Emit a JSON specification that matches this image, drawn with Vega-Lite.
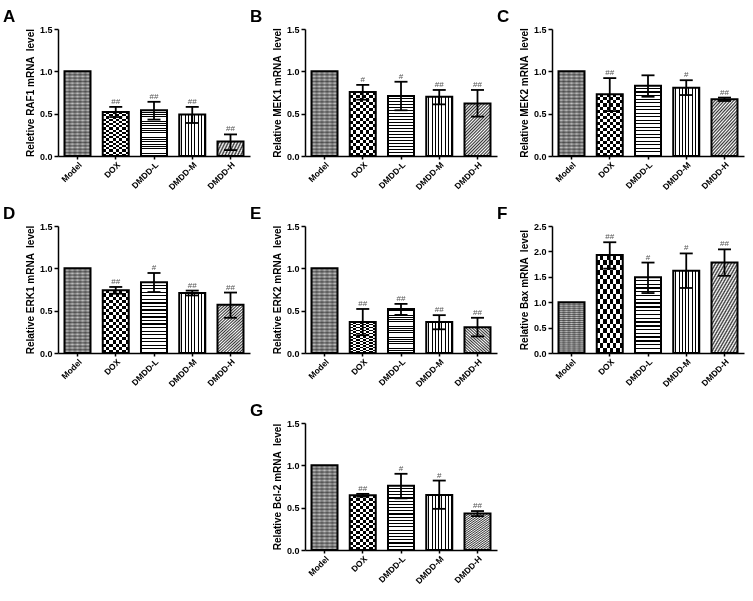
{
"$schema":"https://vega.github.io/schema/vega-lite/v6.json",
"padding":{"left":3,"top":8,"right":5,"bottom":5},
"background":"white",
"params":[
{"name":"gModel","value":{"gradient":"linear","x1":0,"y1":0,"x2":0,"y2":1,"stops":[{"offset":0,"color":"#666666"},{"offset":0.02,"color":"#c4c4c4"},{"offset":0.04,"color":"#666666"},{"offset":0.06,"color":"#c4c4c4"},{"offset":0.08,"color":"#666666"},{"offset":0.1,"color":"#c4c4c4"},{"offset":0.12,"color":"#666666"},{"offset":0.14,"color":"#c4c4c4"},{"offset":0.16,"color":"#666666"},{"offset":0.18,"color":"#c4c4c4"},{"offset":0.2,"color":"#666666"},{"offset":0.22,"color":"#c4c4c4"},{"offset":0.24,"color":"#666666"},{"offset":0.26,"color":"#c4c4c4"},{"offset":0.28,"color":"#666666"},{"offset":0.3,"color":"#c4c4c4"},{"offset":0.32,"color":"#666666"},{"offset":0.34,"color":"#c4c4c4"},{"offset":0.36,"color":"#666666"},{"offset":0.38,"color":"#c4c4c4"},{"offset":0.4,"color":"#666666"},{"offset":0.42,"color":"#c4c4c4"},{"offset":0.44,"color":"#666666"},{"offset":0.46,"color":"#c4c4c4"},{"offset":0.48,"color":"#666666"},{"offset":0.5,"color":"#c4c4c4"},{"offset":0.52,"color":"#666666"},{"offset":0.54,"color":"#c4c4c4"},{"offset":0.56,"color":"#666666"},{"offset":0.58,"color":"#c4c4c4"},{"offset":0.6,"color":"#666666"},{"offset":0.62,"color":"#c4c4c4"},{"offset":0.64,"color":"#666666"},{"offset":0.66,"color":"#c4c4c4"},{"offset":0.68,"color":"#666666"},{"offset":0.7,"color":"#c4c4c4"},{"offset":0.72,"color":"#666666"},{"offset":0.74,"color":"#c4c4c4"},{"offset":0.76,"color":"#666666"},{"offset":0.78,"color":"#c4c4c4"},{"offset":0.8,"color":"#666666"},{"offset":0.82,"color":"#c4c4c4"},{"offset":0.84,"color":"#666666"},{"offset":0.86,"color":"#c4c4c4"},{"offset":0.88,"color":"#666666"},{"offset":0.9,"color":"#c4c4c4"},{"offset":0.92,"color":"#666666"},{"offset":0.94,"color":"#c4c4c4"},{"offset":0.96,"color":"#666666"},{"offset":0.98,"color":"#c4c4c4"},{"offset":1,"color":"#666666"}]}},
{"name":"gModelV","value":{"gradient":"linear","x1":0,"y1":0,"x2":1,"y2":0,"stops":[{"offset":0,"color":"rgba(0,0,0,0.3)"},{"offset":0.1,"color":"rgba(0,0,0,0)"},{"offset":0.2,"color":"rgba(0,0,0,0.3)"},{"offset":0.3,"color":"rgba(0,0,0,0)"},{"offset":0.4,"color":"rgba(0,0,0,0.3)"},{"offset":0.5,"color":"rgba(0,0,0,0)"},{"offset":0.6,"color":"rgba(0,0,0,0.3)"},{"offset":0.7,"color":"rgba(0,0,0,0)"},{"offset":0.8,"color":"rgba(0,0,0,0.3)"},{"offset":0.9,"color":"rgba(0,0,0,0)"},{"offset":1,"color":"rgba(0,0,0,0.3)"}]}},
{"name":"gDox","value":{"gradient":"linear","x1":0,"y1":0,"x2":0,"y2":1,"stops":[{"offset":0,"color":"#ffffff"},{"offset":0.05,"color":"#ffffff"},{"offset":0.05,"color":"#000000"},{"offset":0.1,"color":"#000000"},{"offset":0.1,"color":"#ffffff"},{"offset":0.15,"color":"#ffffff"},{"offset":0.15,"color":"#000000"},{"offset":0.2,"color":"#000000"},{"offset":0.2,"color":"#ffffff"},{"offset":0.25,"color":"#ffffff"},{"offset":0.25,"color":"#000000"},{"offset":0.3,"color":"#000000"},{"offset":0.3,"color":"#ffffff"},{"offset":0.35,"color":"#ffffff"},{"offset":0.35,"color":"#000000"},{"offset":0.4,"color":"#000000"},{"offset":0.4,"color":"#ffffff"},{"offset":0.45,"color":"#ffffff"},{"offset":0.45,"color":"#000000"},{"offset":0.5,"color":"#000000"},{"offset":0.5,"color":"#ffffff"},{"offset":0.55,"color":"#ffffff"},{"offset":0.55,"color":"#000000"},{"offset":0.6,"color":"#000000"},{"offset":0.6,"color":"#ffffff"},{"offset":0.65,"color":"#ffffff"},{"offset":0.65,"color":"#000000"},{"offset":0.7,"color":"#000000"},{"offset":0.7,"color":"#ffffff"},{"offset":0.75,"color":"#ffffff"},{"offset":0.75,"color":"#000000"},{"offset":0.8,"color":"#000000"},{"offset":0.8,"color":"#ffffff"},{"offset":0.85,"color":"#ffffff"},{"offset":0.85,"color":"#000000"},{"offset":0.9,"color":"#000000"},{"offset":0.9,"color":"#ffffff"},{"offset":0.95,"color":"#ffffff"},{"offset":0.95,"color":"#000000"},{"offset":1,"color":"#000000"}]}},
{"name":"gDoxV","value":{"gradient":"linear","x1":0,"y1":0,"x2":1,"y2":0,"stops":[{"offset":0,"color":"#000000"},{"offset":0.125,"color":"#000000"},{"offset":0.125,"color":"#ffffff"},{"offset":0.25,"color":"#ffffff"},{"offset":0.25,"color":"#000000"},{"offset":0.375,"color":"#000000"},{"offset":0.375,"color":"#ffffff"},{"offset":0.5,"color":"#ffffff"},{"offset":0.5,"color":"#000000"},{"offset":0.625,"color":"#000000"},{"offset":0.625,"color":"#ffffff"},{"offset":0.75,"color":"#ffffff"},{"offset":0.75,"color":"#000000"},{"offset":0.875,"color":"#000000"},{"offset":0.875,"color":"#ffffff"},{"offset":1,"color":"#ffffff"}]}},
{"name":"gL","value":{"gradient":"linear","x1":0,"y1":0,"x2":0,"y2":1,"stops":[{"offset":0,"color":"#ffffff"},{"offset":0.032,"color":"#ffffff"},{"offset":0.032,"color":"#000000"},{"offset":0.05,"color":"#000000"},{"offset":0.05,"color":"#ffffff"},{"offset":0.082,"color":"#ffffff"},{"offset":0.082,"color":"#000000"},{"offset":0.1,"color":"#000000"},{"offset":0.1,"color":"#ffffff"},{"offset":0.132,"color":"#ffffff"},{"offset":0.132,"color":"#000000"},{"offset":0.15,"color":"#000000"},{"offset":0.15,"color":"#ffffff"},{"offset":0.182,"color":"#ffffff"},{"offset":0.182,"color":"#000000"},{"offset":0.2,"color":"#000000"},{"offset":0.2,"color":"#ffffff"},{"offset":0.232,"color":"#ffffff"},{"offset":0.232,"color":"#000000"},{"offset":0.25,"color":"#000000"},{"offset":0.25,"color":"#ffffff"},{"offset":0.282,"color":"#ffffff"},{"offset":0.282,"color":"#000000"},{"offset":0.3,"color":"#000000"},{"offset":0.3,"color":"#ffffff"},{"offset":0.332,"color":"#ffffff"},{"offset":0.332,"color":"#000000"},{"offset":0.35,"color":"#000000"},{"offset":0.35,"color":"#ffffff"},{"offset":0.382,"color":"#ffffff"},{"offset":0.382,"color":"#000000"},{"offset":0.4,"color":"#000000"},{"offset":0.4,"color":"#ffffff"},{"offset":0.432,"color":"#ffffff"},{"offset":0.432,"color":"#000000"},{"offset":0.45,"color":"#000000"},{"offset":0.45,"color":"#ffffff"},{"offset":0.482,"color":"#ffffff"},{"offset":0.482,"color":"#000000"},{"offset":0.5,"color":"#000000"},{"offset":0.5,"color":"#ffffff"},{"offset":0.532,"color":"#ffffff"},{"offset":0.532,"color":"#000000"},{"offset":0.55,"color":"#000000"},{"offset":0.55,"color":"#ffffff"},{"offset":0.582,"color":"#ffffff"},{"offset":0.582,"color":"#000000"},{"offset":0.6,"color":"#000000"},{"offset":0.6,"color":"#ffffff"},{"offset":0.632,"color":"#ffffff"},{"offset":0.632,"color":"#000000"},{"offset":0.65,"color":"#000000"},{"offset":0.65,"color":"#ffffff"},{"offset":0.682,"color":"#ffffff"},{"offset":0.682,"color":"#000000"},{"offset":0.7,"color":"#000000"},{"offset":0.7,"color":"#ffffff"},{"offset":0.732,"color":"#ffffff"},{"offset":0.732,"color":"#000000"},{"offset":0.75,"color":"#000000"},{"offset":0.75,"color":"#ffffff"},{"offset":0.782,"color":"#ffffff"},{"offset":0.782,"color":"#000000"},{"offset":0.8,"color":"#000000"},{"offset":0.8,"color":"#ffffff"},{"offset":0.832,"color":"#ffffff"},{"offset":0.832,"color":"#000000"},{"offset":0.85,"color":"#000000"},{"offset":0.85,"color":"#ffffff"},{"offset":0.882,"color":"#ffffff"},{"offset":0.882,"color":"#000000"},{"offset":0.9,"color":"#000000"},{"offset":0.9,"color":"#ffffff"},{"offset":0.932,"color":"#ffffff"},{"offset":0.932,"color":"#000000"},{"offset":0.95,"color":"#000000"},{"offset":0.95,"color":"#ffffff"},{"offset":0.982,"color":"#ffffff"},{"offset":0.982,"color":"#000000"},{"offset":1,"color":"#000000"}]}},
{"name":"gM","value":{"gradient":"linear","x1":0,"y1":0,"x2":1,"y2":0,"stops":[{"offset":0,"color":"#ffffff"},{"offset":0.08,"color":"#ffffff"},{"offset":0.08,"color":"#000000"},{"offset":0.125,"color":"#000000"},{"offset":0.125,"color":"#ffffff"},{"offset":0.205,"color":"#ffffff"},{"offset":0.205,"color":"#000000"},{"offset":0.25,"color":"#000000"},{"offset":0.25,"color":"#ffffff"},{"offset":0.33,"color":"#ffffff"},{"offset":0.33,"color":"#000000"},{"offset":0.375,"color":"#000000"},{"offset":0.375,"color":"#ffffff"},{"offset":0.455,"color":"#ffffff"},{"offset":0.455,"color":"#000000"},{"offset":0.5,"color":"#000000"},{"offset":0.5,"color":"#ffffff"},{"offset":0.58,"color":"#ffffff"},{"offset":0.58,"color":"#000000"},{"offset":0.625,"color":"#000000"},{"offset":0.625,"color":"#ffffff"},{"offset":0.705,"color":"#ffffff"},{"offset":0.705,"color":"#000000"},{"offset":0.75,"color":"#000000"},{"offset":0.75,"color":"#ffffff"},{"offset":0.83,"color":"#ffffff"},{"offset":0.83,"color":"#000000"},{"offset":0.875,"color":"#000000"},{"offset":0.875,"color":"#ffffff"},{"offset":0.955,"color":"#ffffff"},{"offset":0.955,"color":"#000000"},{"offset":1,"color":"#000000"}]}},
{"name":"gH","value":{"gradient":"linear","x1":0,"y1":0,"x2":0.6,"y2":1.2,"stops":[{"offset":0,"color":"#ffffff"},{"offset":0.02,"color":"#333333"},{"offset":0.04,"color":"#ffffff"},{"offset":0.06,"color":"#333333"},{"offset":0.08,"color":"#ffffff"},{"offset":0.1,"color":"#333333"},{"offset":0.12,"color":"#ffffff"},{"offset":0.14,"color":"#333333"},{"offset":0.16,"color":"#ffffff"},{"offset":0.18,"color":"#333333"},{"offset":0.2,"color":"#ffffff"},{"offset":0.22,"color":"#333333"},{"offset":0.24,"color":"#ffffff"},{"offset":0.26,"color":"#333333"},{"offset":0.28,"color":"#ffffff"},{"offset":0.3,"color":"#333333"},{"offset":0.32,"color":"#ffffff"},{"offset":0.34,"color":"#333333"},{"offset":0.36,"color":"#ffffff"},{"offset":0.38,"color":"#333333"},{"offset":0.4,"color":"#ffffff"},{"offset":0.42,"color":"#333333"},{"offset":0.44,"color":"#ffffff"},{"offset":0.46,"color":"#333333"},{"offset":0.48,"color":"#ffffff"},{"offset":0.5,"color":"#333333"},{"offset":0.52,"color":"#ffffff"},{"offset":0.54,"color":"#333333"},{"offset":0.56,"color":"#ffffff"},{"offset":0.58,"color":"#333333"},{"offset":0.6,"color":"#ffffff"},{"offset":0.62,"color":"#333333"},{"offset":0.64,"color":"#ffffff"},{"offset":0.66,"color":"#333333"},{"offset":0.68,"color":"#ffffff"},{"offset":0.7,"color":"#333333"},{"offset":0.72,"color":"#ffffff"},{"offset":0.74,"color":"#333333"},{"offset":0.76,"color":"#ffffff"},{"offset":0.78,"color":"#333333"},{"offset":0.8,"color":"#ffffff"},{"offset":0.82,"color":"#333333"},{"offset":0.84,"color":"#ffffff"},{"offset":0.86,"color":"#333333"},{"offset":0.88,"color":"#ffffff"},{"offset":0.9,"color":"#333333"},{"offset":0.92,"color":"#ffffff"},{"offset":0.94,"color":"#333333"},{"offset":0.96,"color":"#ffffff"},{"offset":0.98,"color":"#333333"},{"offset":1,"color":"#ffffff"}]}}
],
"datasets":{"d":[
{"p":"A","g":"Model","m":1,"lo":null,"hi":null,"s":""},
{"p":"A","g":"DOX","m":0.52,"lo":0.46,"hi":0.58,"s":"##"},
{"p":"A","g":"DMDD-L","m":0.54,"lo":0.43,"hi":0.64,"s":"##"},
{"p":"A","g":"DMDD-M","m":0.49,"lo":0.39,"hi":0.58,"s":"##"},
{"p":"A","g":"DMDD-H","m":0.17,"lo":0.07,"hi":0.255,"s":"##"},
{"p":"B","g":"Model","m":1,"lo":null,"hi":null,"s":""},
{"p":"B","g":"DOX","m":0.755,"lo":0.665,"hi":0.84,"s":"#"},
{"p":"B","g":"DMDD-L","m":0.71,"lo":0.54,"hi":0.877,"s":"#"},
{"p":"B","g":"DMDD-M","m":0.7,"lo":0.61,"hi":0.78,"s":"##"},
{"p":"B","g":"DMDD-H","m":0.62,"lo":0.465,"hi":0.78,"s":"##"},
{"p":"C","g":"Model","m":1,"lo":null,"hi":null,"s":""},
{"p":"C","g":"DOX","m":0.73,"lo":0.53,"hi":0.92,"s":"##"},
{"p":"C","g":"DMDD-L","m":0.83,"lo":0.7,"hi":0.953,"s":""},
{"p":"C","g":"DMDD-M","m":0.805,"lo":0.72,"hi":0.895,"s":"#"},
{"p":"C","g":"DMDD-H","m":0.67,"lo":0.65,"hi":0.69,"s":"##"},
{"p":"D","g":"Model","m":1,"lo":null,"hi":null,"s":""},
{"p":"D","g":"DOX","m":0.74,"lo":0.7,"hi":0.78,"s":"##"},
{"p":"D","g":"DMDD-L","m":0.835,"lo":0.72,"hi":0.945,"s":"#"},
{"p":"D","g":"DMDD-M","m":0.71,"lo":0.68,"hi":0.737,"s":"##"},
{"p":"D","g":"DMDD-H","m":0.57,"lo":0.416,"hi":0.714,"s":"##"},
{"p":"E","g":"Model","m":1,"lo":null,"hi":null,"s":""},
{"p":"E","g":"DOX","m":0.365,"lo":0.21,"hi":0.52,"s":"##"},
{"p":"E","g":"DMDD-L","m":0.52,"lo":0.45,"hi":0.58,"s":"##"},
{"p":"E","g":"DMDD-M","m":0.365,"lo":0.28,"hi":0.447,"s":"##"},
{"p":"E","g":"DMDD-H","m":0.305,"lo":0.196,"hi":0.416,"s":"##"},
{"p":"F","g":"Model","m":1,"lo":null,"hi":null,"s":""},
{"p":"F","g":"DOX","m":1.93,"lo":1.66,"hi":2.18,"s":"##"},
{"p":"F","g":"DMDD-L","m":1.49,"lo":1.18,"hi":1.78,"s":"#"},
{"p":"F","g":"DMDD-M","m":1.62,"lo":1.28,"hi":1.96,"s":"#"},
{"p":"F","g":"DMDD-H","m":1.78,"lo":1.52,"hi":2.04,"s":"##"},
{"p":"G","g":"Model","m":1,"lo":null,"hi":null,"s":""},
{"p":"G","g":"DOX","m":0.647,"lo":0.63,"hi":0.663,"s":"##"},
{"p":"G","g":"DMDD-L","m":0.76,"lo":0.61,"hi":0.9,"s":"#"},
{"p":"G","g":"DMDD-M","m":0.65,"lo":0.486,"hi":0.82,"s":"#"},
{"p":"G","g":"DMDD-H","m":0.43,"lo":0.4,"hi":0.46,"s":"##"}
]},
"columns":3,
"bounds":"flush",
"spacing":{"row":70,"column":55},
"concat":[
{"width":192,"height":127,"title":{"text":"A"},"data":{"name":"d"},"transform":[{"filter":"datum.p==='A'"}],
"encoding":{"x":{"field":"g","type":"nominal","scale":{"domain":["Model","DOX","DMDD-L","DMDD-M","DMDD-H"],"paddingInner":0.32,"paddingOuter":0.17},"axis":{"title":null}},
"y":{"field":"m","type":"quantitative","scale":{"domain":[0,1.5]},"axis":{"title":"Reletive RAF1 mRNA \u00a0level","values":[0,0.5,1,1.5],"format":".1f"}}},
"layer":[
{"transform":[{"filter":"datum.g==='Model'"}],"mark":{"type":"bar","fill":{"expr":"gModel"}}},
{"transform":[{"filter":"datum.g==='Model'"}],"mark":{"type":"bar","fill":{"expr":"gModelV"}}},
{"transform":[{"filter":"datum.g==='DOX'"}],"mark":{"type":"bar","fill":{"expr":"gDox"}}},
{"transform":[{"filter":"datum.g==='DOX'"}],"mark":{"type":"bar","fill":{"expr":"gDoxV"},"blend":"difference"}},
{"transform":[{"filter":"datum.g==='DMDD-L'"}],"mark":{"type":"bar","fill":{"expr":"gL"}}},
{"transform":[{"filter":"datum.g==='DMDD-M'"}],"mark":{"type":"bar","fill":{"expr":"gM"}}},
{"transform":[{"filter":"datum.g==='DMDD-H'"}],"mark":{"type":"bar","fill":{"expr":"gH"}}},
{"mark":{"type":"bar","fillOpacity":0,"stroke":"black","strokeWidth":2}},
{"transform":[{"filter":"datum.lo!=null"}],"mark":{"type":"rule","strokeWidth":1.8,"color":"black"},"encoding":{"y":{"field":"lo","type":"quantitative"},"y2":{"field":"hi"}}},
{"transform":[{"filter":"datum.lo!=null"}],"mark":{"type":"tick","size":13,"thickness":1.8,"color":"black","opacity":1},"encoding":{"y":{"field":"hi","type":"quantitative"}}},
{"transform":[{"filter":"datum.lo!=null"}],"mark":{"type":"tick","size":13,"thickness":1.8,"color":"black","opacity":1},"encoding":{"y":{"field":"lo","type":"quantitative"}}},
{"transform":[{"filter":"datum.s!=''"}],"mark":{"type":"text","baseline":"bottom","dy":-1,"fontSize":8,"color":"#555555"},"encoding":{"y":{"field":"hi","type":"quantitative"},"text":{"field":"s"}}}
]},
{"width":192,"height":127,"title":{"text":"B"},"data":{"name":"d"},"transform":[{"filter":"datum.p==='B'"}],
"encoding":{"x":{"field":"g","type":"nominal","scale":{"domain":["Model","DOX","DMDD-L","DMDD-M","DMDD-H"],"paddingInner":0.32,"paddingOuter":0.17},"axis":{"title":null}},
"y":{"field":"m","type":"quantitative","scale":{"domain":[0,1.5]},"axis":{"title":"Relative MEK1 mRNA \u00a0level","values":[0,0.5,1,1.5],"format":".1f"}}},
"layer":[
{"transform":[{"filter":"datum.g==='Model'"}],"mark":{"type":"bar","fill":{"expr":"gModel"}}},
{"transform":[{"filter":"datum.g==='Model'"}],"mark":{"type":"bar","fill":{"expr":"gModelV"}}},
{"transform":[{"filter":"datum.g==='DOX'"}],"mark":{"type":"bar","fill":{"expr":"gDox"}}},
{"transform":[{"filter":"datum.g==='DOX'"}],"mark":{"type":"bar","fill":{"expr":"gDoxV"},"blend":"difference"}},
{"transform":[{"filter":"datum.g==='DMDD-L'"}],"mark":{"type":"bar","fill":{"expr":"gL"}}},
{"transform":[{"filter":"datum.g==='DMDD-M'"}],"mark":{"type":"bar","fill":{"expr":"gM"}}},
{"transform":[{"filter":"datum.g==='DMDD-H'"}],"mark":{"type":"bar","fill":{"expr":"gH"}}},
{"mark":{"type":"bar","fillOpacity":0,"stroke":"black","strokeWidth":2}},
{"transform":[{"filter":"datum.lo!=null"}],"mark":{"type":"rule","strokeWidth":1.8,"color":"black"},"encoding":{"y":{"field":"lo","type":"quantitative"},"y2":{"field":"hi"}}},
{"transform":[{"filter":"datum.lo!=null"}],"mark":{"type":"tick","size":13,"thickness":1.8,"color":"black","opacity":1},"encoding":{"y":{"field":"hi","type":"quantitative"}}},
{"transform":[{"filter":"datum.lo!=null"}],"mark":{"type":"tick","size":13,"thickness":1.8,"color":"black","opacity":1},"encoding":{"y":{"field":"lo","type":"quantitative"}}},
{"transform":[{"filter":"datum.s!=''"}],"mark":{"type":"text","baseline":"bottom","dy":-1,"fontSize":8,"color":"#555555"},"encoding":{"y":{"field":"hi","type":"quantitative"},"text":{"field":"s"}}}
]},
{"width":192,"height":127,"title":{"text":"C"},"data":{"name":"d"},"transform":[{"filter":"datum.p==='C'"}],
"encoding":{"x":{"field":"g","type":"nominal","scale":{"domain":["Model","DOX","DMDD-L","DMDD-M","DMDD-H"],"paddingInner":0.32,"paddingOuter":0.17},"axis":{"title":null}},
"y":{"field":"m","type":"quantitative","scale":{"domain":[0,1.5]},"axis":{"title":"Relative MEK2 mRNA \u00a0level","values":[0,0.5,1,1.5],"format":".1f"}}},
"layer":[
{"transform":[{"filter":"datum.g==='Model'"}],"mark":{"type":"bar","fill":{"expr":"gModel"}}},
{"transform":[{"filter":"datum.g==='Model'"}],"mark":{"type":"bar","fill":{"expr":"gModelV"}}},
{"transform":[{"filter":"datum.g==='DOX'"}],"mark":{"type":"bar","fill":{"expr":"gDox"}}},
{"transform":[{"filter":"datum.g==='DOX'"}],"mark":{"type":"bar","fill":{"expr":"gDoxV"},"blend":"difference"}},
{"transform":[{"filter":"datum.g==='DMDD-L'"}],"mark":{"type":"bar","fill":{"expr":"gL"}}},
{"transform":[{"filter":"datum.g==='DMDD-M'"}],"mark":{"type":"bar","fill":{"expr":"gM"}}},
{"transform":[{"filter":"datum.g==='DMDD-H'"}],"mark":{"type":"bar","fill":{"expr":"gH"}}},
{"mark":{"type":"bar","fillOpacity":0,"stroke":"black","strokeWidth":2}},
{"transform":[{"filter":"datum.lo!=null"}],"mark":{"type":"rule","strokeWidth":1.8,"color":"black"},"encoding":{"y":{"field":"lo","type":"quantitative"},"y2":{"field":"hi"}}},
{"transform":[{"filter":"datum.lo!=null"}],"mark":{"type":"tick","size":13,"thickness":1.8,"color":"black","opacity":1},"encoding":{"y":{"field":"hi","type":"quantitative"}}},
{"transform":[{"filter":"datum.lo!=null"}],"mark":{"type":"tick","size":13,"thickness":1.8,"color":"black","opacity":1},"encoding":{"y":{"field":"lo","type":"quantitative"}}},
{"transform":[{"filter":"datum.s!=''"}],"mark":{"type":"text","baseline":"bottom","dy":-1,"fontSize":8,"color":"#555555"},"encoding":{"y":{"field":"hi","type":"quantitative"},"text":{"field":"s"}}}
]},
{"width":192,"height":127,"title":{"text":"D"},"data":{"name":"d"},"transform":[{"filter":"datum.p==='D'"}],
"encoding":{"x":{"field":"g","type":"nominal","scale":{"domain":["Model","DOX","DMDD-L","DMDD-M","DMDD-H"],"paddingInner":0.32,"paddingOuter":0.17},"axis":{"title":null}},
"y":{"field":"m","type":"quantitative","scale":{"domain":[0,1.5]},"axis":{"title":"Relative ERK1 mRNA \u00a0level","values":[0,0.5,1,1.5],"format":".1f"}}},
"layer":[
{"transform":[{"filter":"datum.g==='Model'"}],"mark":{"type":"bar","fill":{"expr":"gModel"}}},
{"transform":[{"filter":"datum.g==='Model'"}],"mark":{"type":"bar","fill":{"expr":"gModelV"}}},
{"transform":[{"filter":"datum.g==='DOX'"}],"mark":{"type":"bar","fill":{"expr":"gDox"}}},
{"transform":[{"filter":"datum.g==='DOX'"}],"mark":{"type":"bar","fill":{"expr":"gDoxV"},"blend":"difference"}},
{"transform":[{"filter":"datum.g==='DMDD-L'"}],"mark":{"type":"bar","fill":{"expr":"gL"}}},
{"transform":[{"filter":"datum.g==='DMDD-M'"}],"mark":{"type":"bar","fill":{"expr":"gM"}}},
{"transform":[{"filter":"datum.g==='DMDD-H'"}],"mark":{"type":"bar","fill":{"expr":"gH"}}},
{"mark":{"type":"bar","fillOpacity":0,"stroke":"black","strokeWidth":2}},
{"transform":[{"filter":"datum.lo!=null"}],"mark":{"type":"rule","strokeWidth":1.8,"color":"black"},"encoding":{"y":{"field":"lo","type":"quantitative"},"y2":{"field":"hi"}}},
{"transform":[{"filter":"datum.lo!=null"}],"mark":{"type":"tick","size":13,"thickness":1.8,"color":"black","opacity":1},"encoding":{"y":{"field":"hi","type":"quantitative"}}},
{"transform":[{"filter":"datum.lo!=null"}],"mark":{"type":"tick","size":13,"thickness":1.8,"color":"black","opacity":1},"encoding":{"y":{"field":"lo","type":"quantitative"}}},
{"transform":[{"filter":"datum.s!=''"}],"mark":{"type":"text","baseline":"bottom","dy":-1,"fontSize":8,"color":"#555555"},"encoding":{"y":{"field":"hi","type":"quantitative"},"text":{"field":"s"}}}
]},
{"width":192,"height":127,"title":{"text":"E"},"data":{"name":"d"},"transform":[{"filter":"datum.p==='E'"}],
"encoding":{"x":{"field":"g","type":"nominal","scale":{"domain":["Model","DOX","DMDD-L","DMDD-M","DMDD-H"],"paddingInner":0.32,"paddingOuter":0.17},"axis":{"title":null}},
"y":{"field":"m","type":"quantitative","scale":{"domain":[0,1.5]},"axis":{"title":"Relative ERK2 mRNA \u00a0level","values":[0,0.5,1,1.5],"format":".1f"}}},
"layer":[
{"transform":[{"filter":"datum.g==='Model'"}],"mark":{"type":"bar","fill":{"expr":"gModel"}}},
{"transform":[{"filter":"datum.g==='Model'"}],"mark":{"type":"bar","fill":{"expr":"gModelV"}}},
{"transform":[{"filter":"datum.g==='DOX'"}],"mark":{"type":"bar","fill":{"expr":"gDox"}}},
{"transform":[{"filter":"datum.g==='DOX'"}],"mark":{"type":"bar","fill":{"expr":"gDoxV"},"blend":"difference"}},
{"transform":[{"filter":"datum.g==='DMDD-L'"}],"mark":{"type":"bar","fill":{"expr":"gL"}}},
{"transform":[{"filter":"datum.g==='DMDD-M'"}],"mark":{"type":"bar","fill":{"expr":"gM"}}},
{"transform":[{"filter":"datum.g==='DMDD-H'"}],"mark":{"type":"bar","fill":{"expr":"gH"}}},
{"mark":{"type":"bar","fillOpacity":0,"stroke":"black","strokeWidth":2}},
{"transform":[{"filter":"datum.lo!=null"}],"mark":{"type":"rule","strokeWidth":1.8,"color":"black"},"encoding":{"y":{"field":"lo","type":"quantitative"},"y2":{"field":"hi"}}},
{"transform":[{"filter":"datum.lo!=null"}],"mark":{"type":"tick","size":13,"thickness":1.8,"color":"black","opacity":1},"encoding":{"y":{"field":"hi","type":"quantitative"}}},
{"transform":[{"filter":"datum.lo!=null"}],"mark":{"type":"tick","size":13,"thickness":1.8,"color":"black","opacity":1},"encoding":{"y":{"field":"lo","type":"quantitative"}}},
{"transform":[{"filter":"datum.s!=''"}],"mark":{"type":"text","baseline":"bottom","dy":-1,"fontSize":8,"color":"#555555"},"encoding":{"y":{"field":"hi","type":"quantitative"},"text":{"field":"s"}}}
]},
{"width":192,"height":127,"title":{"text":"F"},"data":{"name":"d"},"transform":[{"filter":"datum.p==='F'"}],
"encoding":{"x":{"field":"g","type":"nominal","scale":{"domain":["Model","DOX","DMDD-L","DMDD-M","DMDD-H"],"paddingInner":0.32,"paddingOuter":0.17},"axis":{"title":null}},
"y":{"field":"m","type":"quantitative","scale":{"domain":[0,2.5]},"axis":{"title":"Relative Bax mRNA \u00a0level","values":[0,0.5,1,1.5,2,2.5],"format":".1f"}}},
"layer":[
{"transform":[{"filter":"datum.g==='Model'"}],"mark":{"type":"bar","fill":{"expr":"gModel"}}},
{"transform":[{"filter":"datum.g==='Model'"}],"mark":{"type":"bar","fill":{"expr":"gModelV"}}},
{"transform":[{"filter":"datum.g==='DOX'"}],"mark":{"type":"bar","fill":{"expr":"gDox"}}},
{"transform":[{"filter":"datum.g==='DOX'"}],"mark":{"type":"bar","fill":{"expr":"gDoxV"},"blend":"difference"}},
{"transform":[{"filter":"datum.g==='DMDD-L'"}],"mark":{"type":"bar","fill":{"expr":"gL"}}},
{"transform":[{"filter":"datum.g==='DMDD-M'"}],"mark":{"type":"bar","fill":{"expr":"gM"}}},
{"transform":[{"filter":"datum.g==='DMDD-H'"}],"mark":{"type":"bar","fill":{"expr":"gH"}}},
{"mark":{"type":"bar","fillOpacity":0,"stroke":"black","strokeWidth":2}},
{"transform":[{"filter":"datum.lo!=null"}],"mark":{"type":"rule","strokeWidth":1.8,"color":"black"},"encoding":{"y":{"field":"lo","type":"quantitative"},"y2":{"field":"hi"}}},
{"transform":[{"filter":"datum.lo!=null"}],"mark":{"type":"tick","size":13,"thickness":1.8,"color":"black","opacity":1},"encoding":{"y":{"field":"hi","type":"quantitative"}}},
{"transform":[{"filter":"datum.lo!=null"}],"mark":{"type":"tick","size":13,"thickness":1.8,"color":"black","opacity":1},"encoding":{"y":{"field":"lo","type":"quantitative"}}},
{"transform":[{"filter":"datum.s!=''"}],"mark":{"type":"text","baseline":"bottom","dy":-1,"fontSize":8,"color":"#555555"},"encoding":{"y":{"field":"hi","type":"quantitative"},"text":{"field":"s"}}}
]},
{"width":192,"height":127,"data":{"values":[]},"mark":"point","encoding":{}},
{"width":192,"height":127,"title":{"text":"G"},"data":{"name":"d"},"transform":[{"filter":"datum.p==='G'"}],
"encoding":{"x":{"field":"g","type":"nominal","scale":{"domain":["Model","DOX","DMDD-L","DMDD-M","DMDD-H"],"paddingInner":0.32,"paddingOuter":0.17},"axis":{"title":null}},
"y":{"field":"m","type":"quantitative","scale":{"domain":[0,1.5]},"axis":{"title":"Relative Bcl-2 mRNA \u00a0level","values":[0,0.5,1,1.5],"format":".1f"}}},
"layer":[
{"transform":[{"filter":"datum.g==='Model'"}],"mark":{"type":"bar","fill":{"expr":"gModel"}}},
{"transform":[{"filter":"datum.g==='Model'"}],"mark":{"type":"bar","fill":{"expr":"gModelV"}}},
{"transform":[{"filter":"datum.g==='DOX'"}],"mark":{"type":"bar","fill":{"expr":"gDox"}}},
{"transform":[{"filter":"datum.g==='DOX'"}],"mark":{"type":"bar","fill":{"expr":"gDoxV"},"blend":"difference"}},
{"transform":[{"filter":"datum.g==='DMDD-L'"}],"mark":{"type":"bar","fill":{"expr":"gL"}}},
{"transform":[{"filter":"datum.g==='DMDD-M'"}],"mark":{"type":"bar","fill":{"expr":"gM"}}},
{"transform":[{"filter":"datum.g==='DMDD-H'"}],"mark":{"type":"bar","fill":{"expr":"gH"}}},
{"mark":{"type":"bar","fillOpacity":0,"stroke":"black","strokeWidth":2}},
{"transform":[{"filter":"datum.lo!=null"}],"mark":{"type":"rule","strokeWidth":1.8,"color":"black"},"encoding":{"y":{"field":"lo","type":"quantitative"},"y2":{"field":"hi"}}},
{"transform":[{"filter":"datum.lo!=null"}],"mark":{"type":"tick","size":13,"thickness":1.8,"color":"black","opacity":1},"encoding":{"y":{"field":"hi","type":"quantitative"}}},
{"transform":[{"filter":"datum.lo!=null"}],"mark":{"type":"tick","size":13,"thickness":1.8,"color":"black","opacity":1},"encoding":{"y":{"field":"lo","type":"quantitative"}}},
{"transform":[{"filter":"datum.s!=''"}],"mark":{"type":"text","baseline":"bottom","dy":-1,"fontSize":8,"color":"#555555"},"encoding":{"y":{"field":"hi","type":"quantitative"},"text":{"field":"s"}}}
]}
],
"config":{
"font":"Liberation Sans",
"view":{"stroke":null},
"title":{"anchor":"start","frame":"group","dx":-55,"fontSize":17,"font":"Liberation Sans","fontWeight":"bold","color":"black","offset":-1},
"axis":{"domainColor":"black","domainWidth":1.5,"tickColor":"black","tickWidth":1.5,"labelColor":"black","titleColor":"black","labelFont":"Liberation Sans","titleFont":"Liberation Sans","labelFontWeight":"bold","titleFontWeight":"bold","labelFontSize":9,"titleFontSize":10,"grid":false},
"axisY":{"tickSize":4,"labelPadding":2,"titlePadding":4},
"axisX":{"labelAngle":-45,"tickSize":3,"labelFontSize":8.5,"labelPadding":1}
}
}
